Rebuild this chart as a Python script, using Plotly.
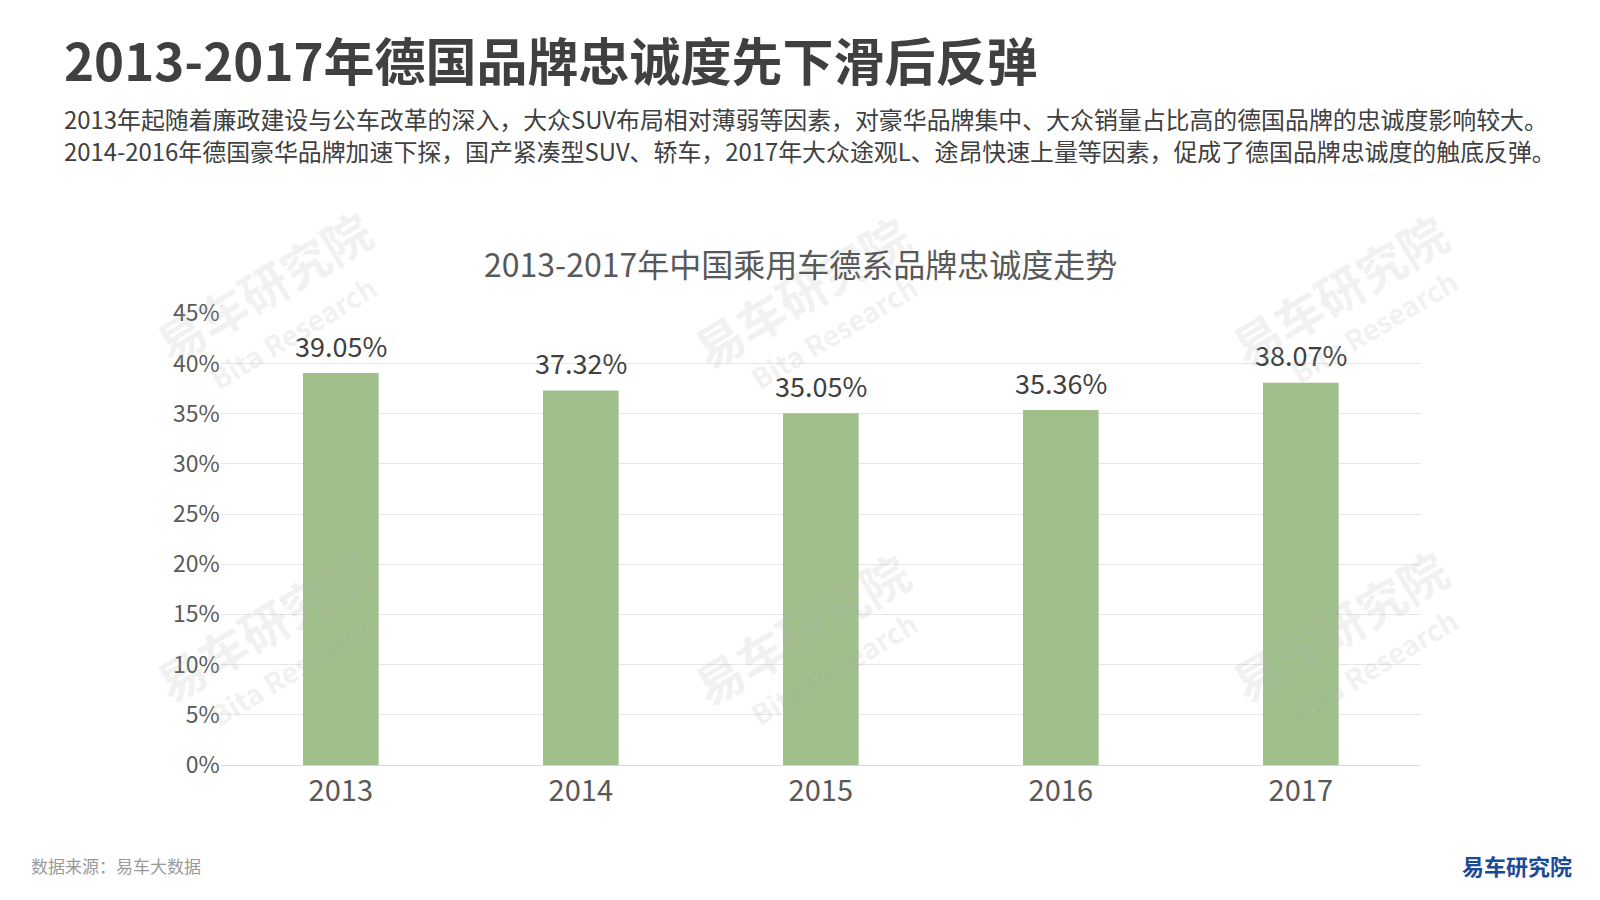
import plotly.graph_objects as go

years = ["2013", "2014", "2015", "2016", "2017"]
loyalty = [39.05, 37.32, 35.05, 35.36, 38.07]
tick_vals = [0, 5, 10, 15, 20, 25, 30, 35, 40, 45]
tick_text = [f"{v}%" for v in tick_vals]

W, H = 1600, 900
FONT = "Noto Sans CJK SC"


def px(x):
    return x / W


def py(y):
    return 1 - y / H


fig = go.Figure()
fig.add_trace(go.Bar(
    x=years, y=loyalty,
    marker=dict(color="#a0bf8b", line=dict(width=0)),
    width=0.315,
))

annotations = []
# value labels, placed through the data axes (category index on the x axis)
for i, v in enumerate(loyalty):
    annotations.append(dict(x=i, y=v, xref="x", yref="y", text=f"{v:.2f}%", showarrow=False,
                            xanchor="center", yanchor="middle", yshift=28,
                            font=dict(size=27, color="#404040", family=FONT)))

# watermarks: (brand-centre, english-centre)
wm_pos = [((255, 278), (285, 324)), ((793, 283), (826, 324)), ((1331, 281), (1366, 318)),
          ((255, 617), (285, 661)), ((793, 620), (826, 660)), ((1331, 617), (1366, 657))]
for (b, e) in wm_pos:
    annotations.append(dict(x=px(b[0]), y=py(b[1]), xref="paper", yref="paper", text="<b>易车研究院</b>",
                            showarrow=False, textangle=-31, xanchor="center", yanchor="middle",
                            font=dict(size=48, color="rgba(170,170,170,0.17)", family=FONT)))
    annotations.append(dict(x=px(e[0]), y=py(e[1]), xref="paper", yref="paper", text="<b>Bita Research</b>",
                            showarrow=False, textangle=-31, xanchor="center", yanchor="middle",
                            font=dict(size=28, color="rgba(170,170,170,0.17)", family=FONT)))

annotations += [
    dict(x=px(54), y=py(51), xref="paper", yref="paper", xanchor="left", yanchor="middle",
         text="<b>2013-2017年德国品牌忠诚度先下滑后反弹</b>", showarrow=False,
         font=dict(size=51, color="#404040", family=FONT)),
    dict(x=px(54), y=py(111), xref="paper", yref="paper", xanchor="left", yanchor="middle",
         text="2013年起随着廉政建设与公车改革的深入，大众SUV布局相对薄弱等因素，对豪华品牌集中、大众销量占比高的德国品牌的忠诚度影响较大。",
         showarrow=False, font=dict(size=23.9, color="#404040", family=FONT)),
    dict(x=px(54), y=py(142), xref="paper", yref="paper", xanchor="left", yanchor="middle",
         text="2014-2016年德国豪华品牌加速下探，国产紧凑型SUV、轿车，2017年大众途观L、途昂快速上量等因素，促成了德国品牌忠诚度的触底反弹。",
         showarrow=False, font=dict(size=23.9, color="#404040", family=FONT)),
    dict(x=px(792), y=py(255), xref="paper", yref="paper", xanchor="center", yanchor="middle",
         text="2013-2017年中国乘用车德系品牌忠诚度走势", showarrow=False,
         font=dict(size=32, color="#595959", family=FONT)),
    dict(x=px(21), y=py(857), xref="paper", yref="paper", xanchor="left", yanchor="middle",
         text="数据来源：易车大数据", showarrow=False,
         font=dict(size=17, color="#9a9a9a", family=FONT)),
    dict(x=px(1566), y=py(857), xref="paper", yref="paper", xanchor="right", yanchor="middle",
         text="<b>易车研究院</b>", showarrow=False,
         font=dict(size=22, color="#1c4a96", family=FONT)),
]

fig.update_layout(
    width=W, height=H,
    paper_bgcolor="white", plot_bgcolor="white",
    margin=dict(l=0, r=0, t=0, b=0, autoexpand=False),
    showlegend=False,
    font=dict(family=FONT, color="#595959"),
    annotations=annotations,
    xaxis=dict(type="category", range=[-0.5, len(years) - 0.5], domain=[px(212.8), px(1412.8)],
               automargin=False,
               tickfont=dict(size=29, color="#595959", family=FONT), showgrid=False,
               showline=True, linecolor="#d9d9d9", linewidth=1, ticks="", ticklen=0),
    yaxis=dict(domain=[1 - 757 / H, 1 - 305.3 / H], automargin=False,
               range=[0, 45], tickvals=tick_vals, ticktext=tick_text,
               tickfont=dict(size=23, color="#595959", family=FONT),
               showgrid=True, gridcolor="#e6e6e6", gridwidth=1, zeroline=False,
               showline=False, ticks=""),
)

fig.write_html("out.html")
